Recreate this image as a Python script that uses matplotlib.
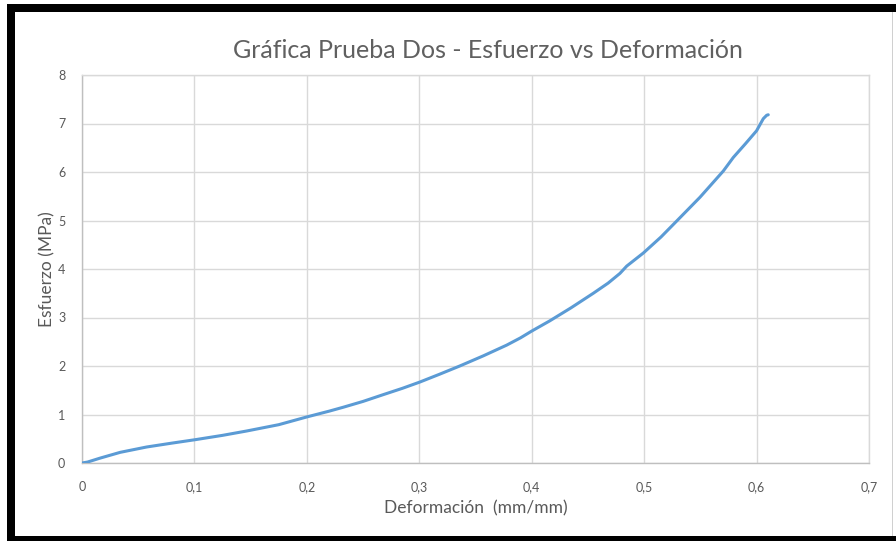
import matplotlib.pyplot as plt
from matplotlib.patches import Rectangle
from matplotlib.ticker import FuncFormatter, MultipleLocator

# Ensayo 2: esfuerzo vs deformacion
deformacion = [0, 0.005, 0.016, 0.034, 0.0575, 0.08, 0.1005, 0.125, 0.1465,
               0.175, 0.20, 0.22, 0.2324, 0.25, 0.268, 0.285, 0.3006, 0.318,
               0.336, 0.357, 0.3777, 0.39, 0.40, 0.416, 0.435, 0.4548, 0.468,
               0.4785, 0.4845, 0.4993, 0.515, 0.529, 0.5497, 0.5704, 0.5793,
               0.59, 0.60, 0.606, 0.609, 0.6104]
esfuerzo = [0, 0.02, 0.10, 0.22, 0.33, 0.41, 0.48, 0.57, 0.66,
            0.79, 0.95, 1.07, 1.15, 1.27, 1.41, 1.54, 1.67, 1.83,
            2.00, 2.21, 2.43, 2.58, 2.72, 2.93, 3.20, 3.50, 3.71,
            3.91, 4.06, 4.33, 4.66, 4.99, 5.48, 6.02, 6.30,
            6.58, 6.85, 7.10, 7.17, 7.18]

titulo = "Gráfica Prueba Dos - Esfuerzo vs Deformación"
etiqueta_x = "Deformación  (mm/mm)"
etiqueta_y = "Esfuerzo (MPa)"

plt.rcParams['font.family'] = ['Lato', 'DejaVu Sans']
gris = '#595959'

W, H = 896, 541
fig = plt.figure(figsize=(W / 100, H / 100), dpi=100)
ax = fig.add_axes([82 / W, (H - 463) / H, 787 / W, 388 / H])

ax.plot(deformacion, esfuerzo, color='#5b9bd5', lw=2.2,
        solid_capstyle='round', solid_joinstyle='round', zorder=3)

ax.set_xlim(0, 0.7)
ax.set_ylim(0, 8)
ax.xaxis.set_major_locator(MultipleLocator(0.1))
ax.yaxis.set_major_locator(MultipleLocator(1))
coma = FuncFormatter(lambda v, p: ('%g' % round(v, 2)).replace('.', ','))
ax.xaxis.set_major_formatter(coma)
ax.yaxis.set_major_formatter(coma)

ax.grid(True, color='#d9d9d9', lw=1.0)
ax.set_axisbelow(True)
for s in ax.spines.values():
    s.set_color('#d9d9d9')
    s.set_linewidth(1.0)
ax.spines['left'].set_color('#bfbfbf')
ax.spines['bottom'].set_color('#bfbfbf')
ax.tick_params(length=0, labelsize=9, colors=gris)
ax.tick_params(axis='x', pad=13)
ax.tick_params(axis='y', pad=12)

ax.set_xlabel(etiqueta_x, fontsize=12.5, color=gris, labelpad=5)
ax.set_ylabel(etiqueta_y, fontsize=12.5, color=gris, labelpad=2)
fig.text(488 / W, 1 - 50 / H, titulo, fontsize=18, color='#606060',
         ha='center', va='center')

# marco negro alrededor del grafico
def caja(x0, y0, x1, y1, color='black'):
    fig.add_artist(Rectangle((x0 / W, 1 - y1 / H), (x1 - x0) / W, (y1 - y0) / H,
                             transform=fig.transFigure, color=color, lw=0))

caja(7, 4, 15, 541)
caja(7, 4, 896, 12)
caja(7, 536, 896, 541)
caja(892, 12, 893, 536, color='#d0d0d0')

fig.savefig('out.png', dpi=100)
